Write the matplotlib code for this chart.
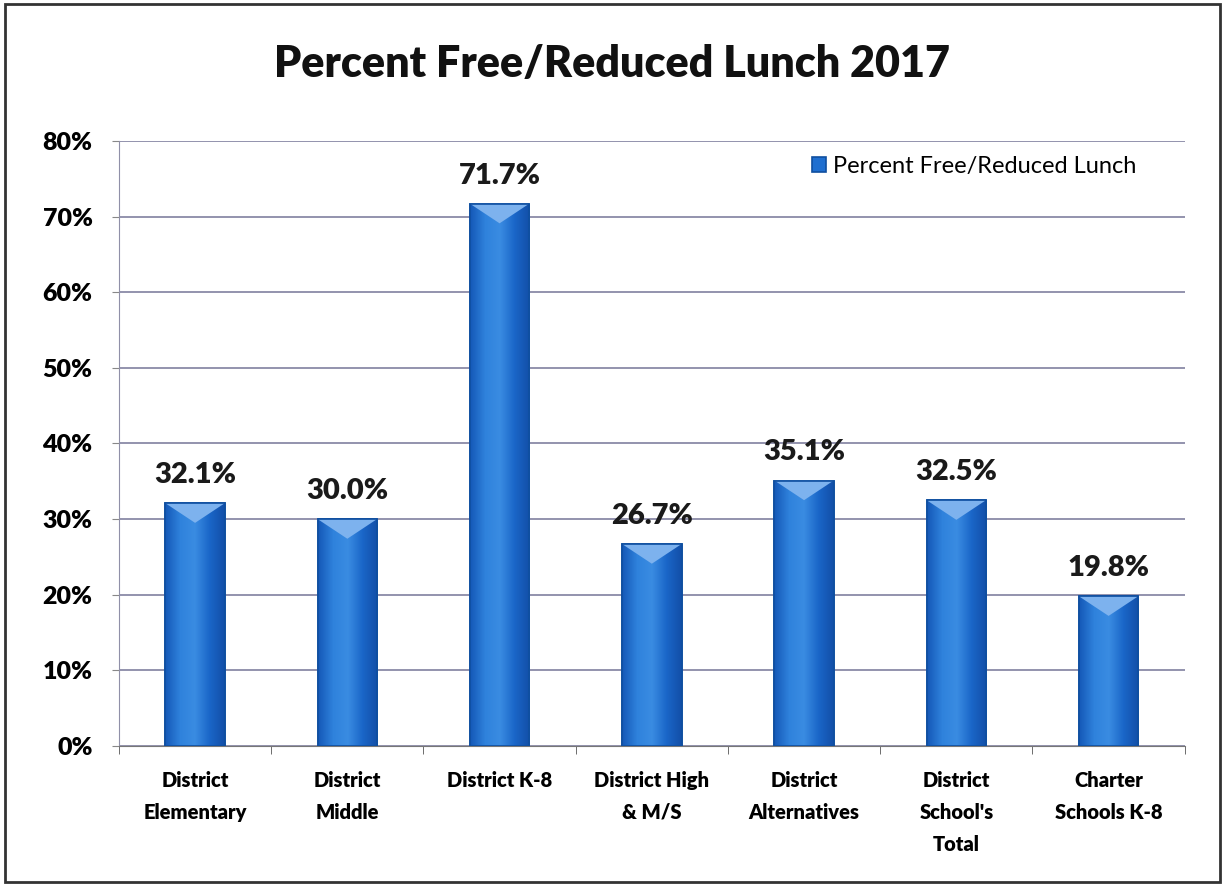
import numpy as np
import matplotlib
matplotlib.use("Agg")
import matplotlib.pyplot as plt
from matplotlib.patches import Polygon, Rectangle
from matplotlib.colors import LinearSegmentedColormap

# data
categories = ["District\nElementary", "District\nMiddle", "District K-8", "District High\n& M/S",
              "District\nAlternatives", "District\nSchool's\nTotal", "Charter\nSchools K-8"]
values = [32.1, 30.0, 71.7, 26.7, 35.1, 32.5, 19.8]
yticks = [0, 10, 20, 30, 40, 50, 60, 70, 80]

plt.rcParams['font.family'] = ['Lato', 'DejaVu Sans']
W = "heavy"

fig = plt.figure(figsize=(12.25, 8.86), dpi=100)
ax = fig.add_axes([0.0971, 0.158, 0.87, 0.683])

x = np.arange(len(values))
width = 0.39
bars = ax.bar(x, values, width=width, color="#1f6fd0", edgecolor="#0f4fa0", linewidth=1.2, zorder=3,
              label="Percent Free/Reduced Lunch")

# horizontal shading inside bars
cmap = LinearSegmentedColormap.from_list("barshade", ["#1559b8", "#2f82dc", "#3a8ce2", "#1a66c8", "#134fa8"])
grad = np.linspace(0, 1, 64).reshape(1, -1)
for b, xi, v in zip(bars, x, values):
    im = ax.imshow(grad, cmap=cmap, aspect="auto", zorder=3.5,
                   extent=[xi - width / 2, xi + width / 2, 0, v])
    im.set_clip_path(b)
    tri = Polygon([[xi - width / 2, v], [xi + width / 2, v], [xi, v - 2.6]], closed=True,
                  facecolor="#7db2ee", edgecolor="none", zorder=4)
    ax.add_patch(tri)
    ax.add_patch(Rectangle((xi - width / 2, 0), width, v, fill=False, edgecolor="#0f4fa0",
                           linewidth=1.2, zorder=4.5))
    ax.text(xi, v + 2.0, f"{v:.1f}%", ha="center", va="bottom", fontsize=21, fontweight=W,
            color="#1a1a1a")

ax.set_ylim(0, 80)
ax.set_xlim(-0.5, len(values) - 0.5)
ax.set_yticks(yticks)
ax.set_yticklabels([f"{t}%" for t in yticks], fontsize=18, fontweight=W)
ax.yaxis.grid(True, color="#8080a0", linewidth=1.2, zorder=0)
ax.set_axisbelow(True)

ax.set_xticks(x)
ax.set_xticklabels(categories, fontsize=14.5, fontweight=W, va="top", linespacing=1.8)
ax.tick_params(axis="x", length=0, pad=18)
ax.set_xticks(np.arange(len(values) + 1) - 0.5, minor=True)
ax.tick_params(axis="x", which="minor", length=6, color="#555555")
ax.tick_params(axis="y", length=5, color="#888888", pad=14)

for s in ["top", "right"]:
    ax.spines[s].set_visible(False)
ax.spines["left"].set_color("#9090a8")
ax.spines["bottom"].set_color("#777777")

leg = ax.legend(loc="upper right", bbox_to_anchor=(0.975, 1.01), frameon=False, fontsize=17,
                handlelength=0.6, handleheight=0.6, handletextpad=0.3)

fig.suptitle("Percent Free/Reduced Lunch 2017", y=0.95, fontsize=31, fontweight=W, color="#111111")

# outer border
fig.patches.append(Rectangle((0.004, 0.004), 0.992, 0.992, transform=fig.transFigure, fill=False,
                             edgecolor="#333333", linewidth=2))

fig.savefig("out.png", dpi=100)
